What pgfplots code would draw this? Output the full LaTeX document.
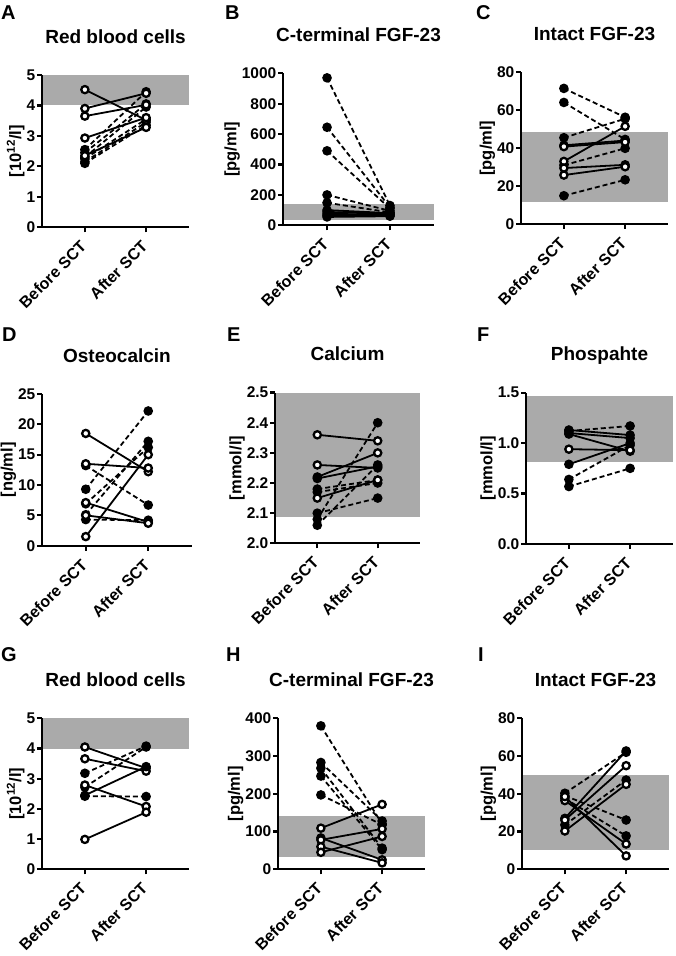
\documentclass[border=0pt]{standalone}
\usepackage{fontspec}
\setmainfont{Liberation Sans}
\usepackage{pgfplots}
\pgfplotsset{compat=1.18}
\newcommand\titf{\fontsize{19}{20}\selectfont\bfseries}
\newcommand\tickf{\fontsize{15.5}{16}\selectfont\bfseries}
\newcommand\xtickf{\fontsize{16}{17}\selectfont\bfseries}
\newcommand\labf{\fontsize{16.5}{17}\selectfont\bfseries}
\newcommand\letf{\fontsize{20}{22}\selectfont\bfseries}
\definecolor{band}{RGB}{170,170,170}
\pgfplotsset{
  panel/.style={scale only axis, axis on top, clip=false, anchor=south west,
    xmin=-0.7, xmax=1.7, xtick={0,1}, xticklabels={Before SCT, After SCT},
    axis x line*=bottom, axis y line*=left,
    axis line style={line width=2.2pt, black},
    tick style={line width=2.2pt, black}, major tick length=5pt, tick align=outside,
    minor tick num=0,
    every tick label/.append style={font=\tickf},
    xticklabel style={font=\xtickf, rotate=45, anchor=north east, inner sep=0pt, xshift=-9pt, yshift=-1pt},
    yticklabel style={inner sep=1.5pt},
    /pgf/number format/assume math mode=true,
    /pgf/number format/1000 sep={},
    scaled y ticks=false,
    title style={font=\titf, at={(0.5,1)}, anchor=base, yshift=25.7pt},
    ylabel style={font=\labf}, ylabel shift=-3pt,
  },
  solo/.style={black, line width=1.8pt, mark=*, mark size=3.6pt, mark options={solid, fill=white, line width=2.3pt}},
  solf/.style={black, line width=1.8pt, mark=*, mark size=3.6pt, mark options={solid, fill=black, line width=2.3pt}},
  dash/.style={black, line width=1.8pt, dash pattern=on 5pt off 3pt, mark=*, mark size=3.6pt, mark options={solid, fill=black, line width=2.3pt}},
  bandp/.style={fill=band, draw=none, forget plot},
}
\begin{document}
\begin{tikzpicture}
\useasboundingbox (0,0) rectangle (675pt,956pt);
% panel letters
\node[anchor=base west, font=\letf, inner sep=0] at (1pt,936.5pt) {A};
\node[anchor=base west, font=\letf, inner sep=0] at (225pt,936.5pt) {B};
\node[anchor=base west, font=\letf, inner sep=0] at (476pt,936.5pt) {C};
\node[anchor=base west, font=\letf, inner sep=0] at (2pt,614.3pt) {D};
\node[anchor=base west, font=\letf, inner sep=0] at (227pt,614.3pt) {E};
\node[anchor=base west, font=\letf, inner sep=0] at (477pt,614.3pt) {F};
\node[anchor=base west, font=\letf, inner sep=0] at (1pt,294.3pt) {G};
\node[anchor=base west, font=\letf, inner sep=0] at (226pt,294.3pt) {H};
\node[anchor=base west, font=\letf, inner sep=0] at (478pt,294.3pt) {I};

% ---------- A ----------
\begin{axis}[panel, at={(42pt,728.7pt)}, width=147pt, height=152.3pt,
  ymin=0, ymax=5, ytick={0,1,2,3,4,5}, ylabel={[10\textsuperscript{12}/l]}, title={Red blood cells}]
\addplot[bandp] coordinates {(-0.7,4) (1.7,4) (1.7,5) (-0.7,5)};
\addplot[dash] coordinates {(0,2.55) (1,4.45)};
\addplot[dash] coordinates {(0,2.45) (1,4.05)};
\addplot[dash] coordinates {(0,2.30) (1,3.95)};
\addplot[dash] coordinates {(0,2.25) (1,3.55)};
\addplot[dash] coordinates {(0,2.15) (1,3.45)};
\addplot[dash] coordinates {(0,2.10) (1,3.35)};
\addplot[solo] coordinates {(0,4.52) (1,3.52)};
\addplot[solo] coordinates {(0,3.90) (1,4.40)};
\addplot[solo] coordinates {(0,3.65) (1,4.02)};
\addplot[solo] coordinates {(0,2.93) (1,3.60)};
\addplot[solo] coordinates {(0,2.35) (1,3.28)};
\end{axis}

% ---------- B ----------
\begin{axis}[panel, at={(283pt,730.7pt)}, width=151pt, height=152pt,
  ymin=0, ymax=1000, ytick={0,200,400,600,800,1000}, ylabel={[pg/ml]}, title={C-terminal FGF-23}]
\addplot[bandp] coordinates {(-0.7,35) (1.7,35) (1.7,137) (-0.7,137)};
\addplot[dash] coordinates {(0,970) (1,130)};
\addplot[dash] coordinates {(0,645) (1,118)};
\addplot[dash] coordinates {(0,490) (1,110)};
\addplot[dash] coordinates {(0,200) (1,95)};
\addplot[dash] coordinates {(0,148) (1,85)};
\addplot[solf] coordinates {(0,100) (1,80)};
\addplot[solf] coordinates {(0,88) (1,75)};
\addplot[solf] coordinates {(0,75) (1,70)};
\addplot[solf] coordinates {(0,65) (1,65)};
\addplot[solf] coordinates {(0,55) (1,60)};
\end{axis}

% ---------- C ----------
\begin{axis}[panel, at={(521pt,732pt)}, width=147pt, height=151.7pt,
  ymin=0, ymax=80, ytick={0,20,40,60,80}, ylabel={[pg/ml]}, title={Intact FGF-23}]
\addplot[bandp] coordinates {(-0.7,11.8) (1.7,11.8) (1.7,48.7) (-0.7,48.7)};
\addplot[dash] coordinates {(0,71.5) (1,56.3)};
\addplot[dash] coordinates {(0,64.1) (1,44.6)};
\addplot[dash] coordinates {(0,45.5) (1,55.5)};
\addplot[dash] coordinates {(0,31.0) (1,39.9)};
\addplot[dash] coordinates {(0,14.9) (1,23.3)};
\addplot[solo] coordinates {(0,41.5) (1,44.0)};
\addplot[solo] coordinates {(0,40.8) (1,43.2)};
\addplot[solo] coordinates {(0,33.0) (1,51.5)};
\addplot[solo] coordinates {(0,29.5) (1,31.2)};
\addplot[solo] coordinates {(0,25.8) (1,30.2)};
\end{axis}

% ---------- D ----------
\begin{axis}[panel, at={(42pt,410.3pt)}, width=150pt, height=151.7pt,
  ymin=0, ymax=25, ytick={0,5,10,15,20,25}, ylabel={[ng/ml]}, title={Osteocalcin}]
\addplot[dash] coordinates {(0,13.2) (1,6.7)};
\addplot[dash] coordinates {(0,9.3) (1,22.2)};
\addplot[dash] coordinates {(0,6.9) (1,16.2)};
\addplot[dash] coordinates {(0,5.1) (1,17.2)};
\addplot[dash] coordinates {(0,4.3) (1,4.2)};
\addplot[solo] coordinates {(0,18.5) (1,12.2)};
\addplot[solo] coordinates {(0,13.5) (1,12.8)};
\addplot[solo] coordinates {(0,7.1) (1,3.9)};
\addplot[solo] coordinates {(0,5.0) (1,3.7)};
\addplot[solo] coordinates {(0,1.5) (1,15.0)};
\end{axis}

% ---------- E ----------
\begin{axis}[panel, at={(275pt,412.7pt)}, width=145pt, height=150.7pt,
  ymin=2.0, ymax=2.5, ytick={2.0,2.1,2.2,2.3,2.4,2.5}, ylabel={[mmol/l]}, title={Calcium},
  yticklabel style={/pgf/number format/.cd, fixed, fixed zerofill, precision=1}]
\addplot[bandp] coordinates {(-0.7,2.088) (1.7,2.088) (1.7,2.5) (-0.7,2.5)};
\addplot[dash] coordinates {(0,2.18) (1,2.21)};
\addplot[dash] coordinates {(0,2.17) (1,2.20)};
\addplot[dash] coordinates {(0,2.10) (1,2.15)};
\addplot[dash] coordinates {(0,2.08) (1,2.40)};
\addplot[dash] coordinates {(0,2.06) (1,2.26)};
\addplot[solo] coordinates {(0,2.36) (1,2.34)};
\addplot[solo] coordinates {(0,2.26) (1,2.25)};
\addplot[solo] coordinates {(0,2.22) (1,2.30)};
\addplot[solf] coordinates {(0,2.215) (1,2.255)};
\addplot[solo] coordinates {(0,2.15) (1,2.21)};
\end{axis}

% ---------- F ----------
\begin{axis}[panel, at={(526pt,412pt)}, width=147pt, height=151.3pt,
  ymin=0, ymax=1.5, ytick={0,0.5,1.0,1.5}, ylabel={[mmol/l]}, title={Phospahte},
  yticklabel style={/pgf/number format/.cd, fixed, fixed zerofill, precision=1}]
\addplot[bandp] coordinates {(-0.7,0.81) (1.7,0.81) (1.7,1.467) (-0.7,1.467)};
\addplot[dash] coordinates {(0,1.12) (1,1.17)};
\addplot[dash] coordinates {(0,0.64) (1,0.98)};
\addplot[dash] coordinates {(0,0.57) (1,0.75)};
\addplot[solf] coordinates {(0,1.13) (1,1.08)};
\addplot[solf] coordinates {(0,1.10) (1,1.05)};
\addplot[solf] coordinates {(0,1.09) (1,0.92)};
\addplot[solo] coordinates {(0,0.94) (1,0.93)};
\addplot[solf] coordinates {(0,0.79) (1,1.00)};
\end{axis}

% ---------- G ----------
\begin{axis}[panel, at={(42pt,86.7pt)}, width=147pt, height=151pt,
  ymin=0, ymax=5, ytick={0,1,2,3,4,5}, ylabel={[10\textsuperscript{12}/l]}, title={Red blood cells}]
\addplot[bandp] coordinates {(-0.7,4) (1.7,4) (1.7,5) (-0.7,5)};
\addplot[dash] coordinates {(0,3.18) (1,4.08)};
\addplot[dash] coordinates {(0,2.72) (1,4.05)};
\addplot[dash] coordinates {(0,2.42) (1,2.41)};
\addplot[solo] coordinates {(0,4.05) (1,3.35)};
\addplot[solo] coordinates {(0,3.66) (1,3.25)};
\addplot[solo] coordinates {(0,2.79) (1,2.08)};
\addplot[solf] coordinates {(0,2.45) (1,3.40)};
\addplot[solo] coordinates {(0,0.99) (1,1.89)};
\end{axis}

% ---------- H ----------
\begin{axis}[panel, at={(278pt,86.7pt)}, width=147pt, height=151pt,
  ymin=0, ymax=400, ytick={0,100,200,300,400}, ylabel={[pg/ml]}, title={C-terminal FGF-23}]
\addplot[bandp] coordinates {(-0.7,32) (1.7,32) (1.7,140) (-0.7,140)};
\addplot[dash] coordinates {(0,380) (1,120)};
\addplot[dash] coordinates {(0,283) (1,128)};
\addplot[dash] coordinates {(0,268) (1,56)};
\addplot[dash] coordinates {(0,247) (1,52)};
\addplot[dash] coordinates {(0,197) (1,118)};
\addplot[solo] coordinates {(0,109) (1,172)};
\addplot[solo] coordinates {(0,83) (1,25)};
\addplot[solo] coordinates {(0,78) (1,107)};
\addplot[solo] coordinates {(0,60) (1,17)};
\addplot[solo] coordinates {(0,45) (1,87)};
\end{axis}

% ---------- I ----------
\begin{axis}[panel, at={(522pt,86.7pt)}, width=147pt, height=151pt,
  ymin=0, ymax=80, ytick={0,20,40,60,80}, ylabel={[pg/ml]}, title={Intact FGF-23}]
\addplot[bandp] coordinates {(-0.7,10.2) (1.7,10.2) (1.7,49.8) (-0.7,49.8)};
\addplot[dash] coordinates {(0,40.3) (1,62.0)};
\addplot[dash] coordinates {(0,39.0) (1,26.1)};
\addplot[dash] coordinates {(0,37.5) (1,17.7)};
\addplot[dash] coordinates {(0,23.5) (1,47.3)};
\addplot[solo] coordinates {(0,36.4) (1,13.4)};
\addplot[solo] coordinates {(0,38.5) (1,7.1)};
\addplot[solf] coordinates {(0,27.0) (1,62.7)};
\addplot[solo] coordinates {(0,26.1) (1,54.9)};
\addplot[solo] coordinates {(0,20.3) (1,45.0)};
\end{axis}
\end{tikzpicture}
\end{document}
